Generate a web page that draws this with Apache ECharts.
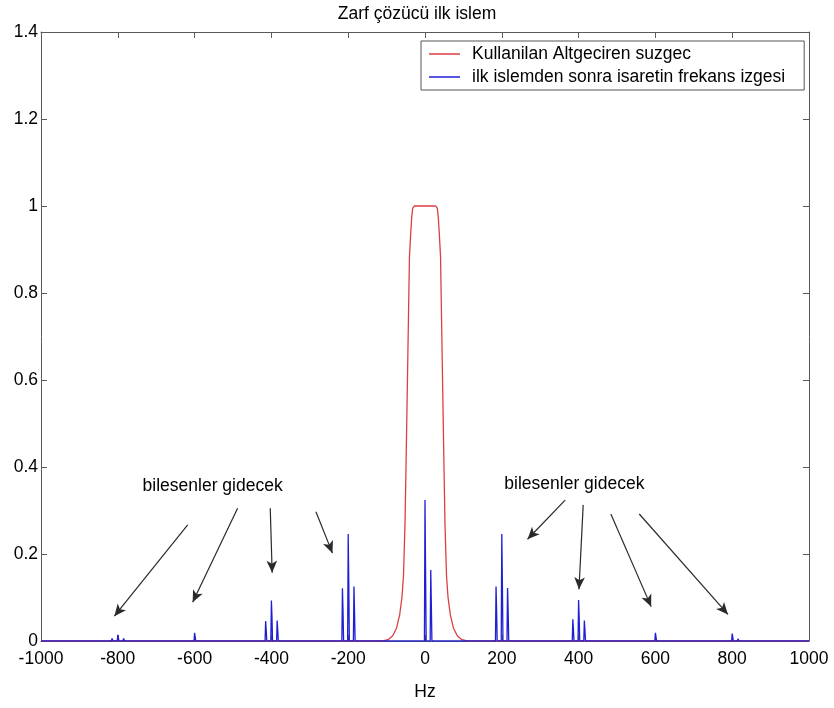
<!DOCTYPE html>
<html>
<head>
<meta charset="utf-8">
<script src="https://cdn.jsdelivr.net/npm/echarts@6/dist/echarts.min.js"></script>
<style>
  html, body { margin: 0; padding: 0; background: #fff; }
  #chart { width: 834px; height: 708px; }
</style>
</head>
<body>
<div id="chart"></div>
<script>
// Low-pass filter magnitude response (Hz, gain)
const filterHz   = [-1000, -110, -96, -84, -74, -66, -60, -56, -52, -49, -44.7, -40.5, -37, -34.5, -32, -28,
                    28, 32, 34.5, 37, 40.5, 44.7, 49, 52, 56, 60, 66, 74, 84, 96, 110, 1000];
const filterGain = [0, 0, 0.003, 0.012, 0.03, 0.06, 0.10, 0.15, 0.271, 0.424, 0.654, 0.883, 0.94, 0.975, 0.995, 1,
                    1, 0.995, 0.975, 0.94, 0.883, 0.654, 0.424, 0.271, 0.15, 0.10, 0.06, 0.03, 0.012, 0.003, 0, 0];

// Spectral lines of the signal after the first stage
const spikeHz       = [-815, -800, -785, -600, -415, -400, -385, -215, -200, -185, 0, 15,
                       185, 200, 215, 385, 400, 415, 600, 785, 800, 815];
const spikePeak     = [0.006, 0.014, 0.006, 0.019, 0.046, 0.093, 0.047, 0.121, 0.246, 0.125, 0.324, 0.163,
                       0.125, 0.246, 0.122, 0.050, 0.094, 0.047, 0.019, 0.003, 0.017, 0.005];
const spikeShoulder = [0.003, 0.007, 0.003, 0.010, 0.025, 0.055, 0.025, 0.070, 0.136, 0.067, 0.163, 0.083,
                       0.071, 0.134, 0.070, 0.027, 0.054, 0.025, 0.010, 0.002, 0.009, 0.003];
const binHz = 1.5;
const spectrumRange = [-1000, 1000];

const xTicks = { min: -1000, max: 1000, step: 200 };
const yTicks = { min: 0, max: 1.4, step: 0.2 };

const seriesNames = ['Kullanilan Altgeciren suzgec', 'ilk islemden sonra isaretin frekans izgesi'];
const titleText = 'Zarf çözücü ilk islem';
const xName = 'Hz';

// Annotation arrows (start -> end, in axis units) and their captions
const noteText = 'bilesenler gidecek';
const noteAt = [[-553, 0.356], [389, 0.360]];
const arrowFrom = [[-618, 0.267], [-488, 0.305], [-403, 0.305], [-284, 0.297],
                   [365, 0.324], [412, 0.313], [484, 0.292], [558, 0.292]];
const arrowTo   = [[-809, 0.057], [-605, 0.089], [-398, 0.157], [-241, 0.202],
                   [267, 0.234], [401, 0.119], [589, 0.079], [789, 0.061]];

// Build polyline data
const filterData = filterHz.map((f, i) => [f, filterGain[i]]);
const spectrumData = [[spectrumRange[0], 0]];
spikeHz.forEach((f, i) => {
  spectrumData.push([f - binHz, 0], [f, spikePeak[i]], [f + binHz, spikeShoulder[i]], [f + 2 * binHz, 0]);
});
spectrumData.push([spectrumRange[1], 0]);

const FONT = "'Liberation Sans', Arial, sans-serif";
const FS = 17.5;
const AXIS_COLOR = '#5a5a5a';

function xAxisCfg(pos, showLabels) {
  return {
    type: 'value', position: pos, min: xTicks.min, max: xTicks.max, interval: xTicks.step,
    axisLine: { show: true, onZero: false, lineStyle: { color: AXIS_COLOR, width: 1 } },
    axisTick: { show: true, inside: true, length: 6, lineStyle: { color: AXIS_COLOR } },
    axisLabel: { show: showLabels, fontSize: FS, fontFamily: FONT, color: '#000', margin: 9,
                 formatter: v => String(v) },
    splitLine: { show: false },
    name: showLabels ? xName : '', nameLocation: 'middle', nameGap: 42,
    nameTextStyle: { fontSize: FS, fontFamily: FONT, color: '#000' }
  };
}
function yAxisCfg(pos, showLabels) {
  return {
    type: 'value', position: pos, min: yTicks.min, max: yTicks.max, interval: yTicks.step,
    axisLine: { show: true, onZero: false, lineStyle: { color: AXIS_COLOR, width: 1 } },
    axisTick: { show: true, inside: true, length: 6, lineStyle: { color: AXIS_COLOR } },
    axisLabel: { show: showLabels, fontSize: FS, fontFamily: FONT, color: '#000', margin: 3 },
    splitLine: { show: false }
  };
}

const chart = echarts.init(document.getElementById('chart'), null, { renderer: 'canvas' });
chart.setOption({
  animation: false,
  backgroundColor: '#fff',
  title: {
    text: titleText, left: 'center', top: 0,
    textStyle: { fontSize: FS, fontWeight: 'normal', fontFamily: FONT, color: '#000' }
  },
  grid: { left: 41, right: 25, top: 32, bottom: 67 },
  xAxis: [xAxisCfg('bottom', true), xAxisCfg('top', false)],
  yAxis: [yAxisCfg('left', true), yAxisCfg('right', false)],
  legend: {
    data: seriesNames,
    orient: 'vertical', left: 421, top: 41,
    icon: 'rect', itemWidth: 31, itemHeight: 1.5, itemGap: 3,
    padding: [3, 19, 3, 8],
    borderColor: '#555', borderWidth: 1, backgroundColor: '#fff',
    selectedMode: false,
    textStyle: { fontSize: FS, fontFamily: FONT, color: '#000', lineHeight: 20, padding: [0, 0, 0, 7] }
  },
  series: [
    {
      name: seriesNames[0], type: 'line', data: filterData,
      xAxisIndex: 0, yAxisIndex: 0,
      color: '#dd3e44', symbol: 'none', lineStyle: { width: 1.3 }, z: 2, silent: true
    },
    {
      name: seriesNames[1], type: 'line', data: spectrumData,
      xAxisIndex: 0, yAxisIndex: 0,
      color: '#1f1fd6', symbol: 'none', lineStyle: { width: 1.3 }, z: 3, silent: true,
      markLine: {
        silent: true, animation: false,
        symbol: ['none', 'arrow'], symbolSize: [8, 12],
        lineStyle: { color: '#2a2a2a', width: 1.2, type: 'solid' },
        itemStyle: { color: '#2a2a2a' },
        label: { show: false },
        emphasis: { disabled: true },
        data: arrowFrom.map((p, i) => [{ coord: p }, { coord: arrowTo[i] }])
      },
      markPoint: {
        silent: true, animation: false,
        symbol: 'circle', symbolSize: 0,
        label: { show: true, position: 'inside', fontSize: FS, fontFamily: FONT, color: '#000', formatter: noteText },
        data: noteAt.map(p => ({ coord: p }))
      }
    }
  ]
});
</script>
</body>
</html>
